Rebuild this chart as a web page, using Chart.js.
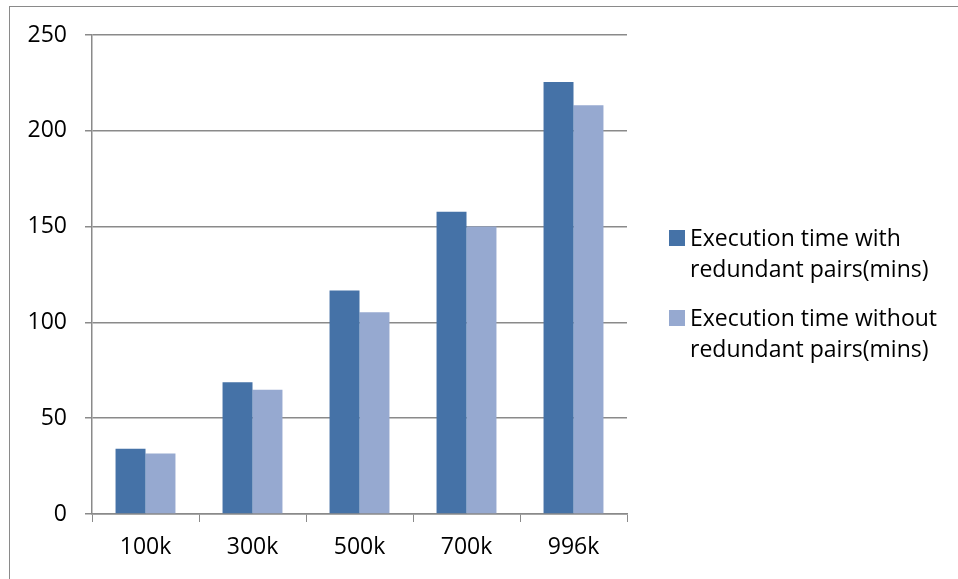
<!DOCTYPE html>
<html>
<head>
<meta charset="utf-8">
<script src="https://cdn.jsdelivr.net/npm/chart.js@4.4.1/dist/chart.umd.min.js"></script>
<style>
  body { margin: 0; background: #fff; }
  #wrap { position: relative; width: 958px; height: 579px; }
  #frame { position: absolute; left: 9px; top: 6px; right: 0; bottom: 0;
           border-left: 1px solid #8a8a8a; border-top: 1px solid #8a8a8a; pointer-events: none; }
  canvas { position: absolute; left: 0; top: 0; }
</style>
</head>
<body>
<div id="wrap">
  <canvas id="grafico" width="958" height="579"></canvas>
  <div id="frame"></div>
</div>
<script>
const categorias = ['100k', '300k', '500k', '700k', '996k'];
const comRedundantes = [34, 68.7, 116.7, 157.8, 225.5];
const semRedundantes = [31.6, 64.9, 105.3, 150, 213.4];
const legendas = [
    ['Execution time with', 'redundant pairs(mins)'],
    ['Execution time without', 'redundant pairs(mins)']
];
const cores = ['#4572A7', '#96A9D0'];
const ticksY = [0, 50, 100, 150, 200, 250];

const fonte = { family: "'Open Sans'", size: 23 };
const cinza = '#8a8a8a';

// legenda desenhada à mão porque os textos têm duas linhas
const legendaPlugin = {
    id: 'legendaPlugin',
    afterDraw(chart) {
        const ctx = chart.ctx;
        const x = chart.chartArea.right + 42;
        let y = 230;
        ctx.save();
        ctx.font = "23px 'Open Sans'";
        ctx.fillStyle = '#000';
        ctx.textBaseline = 'alphabetic';
        chart.data.datasets.forEach((ds, i) => {
            ctx.fillStyle = ds.backgroundColor;
            ctx.fillRect(x, y, 16, 16);
            ctx.fillStyle = '#000';
            legendas[i].forEach((linha, j) => {
                ctx.fillText(linha, x + 21, y + 16 + j * 31);
            });
            y += 80;
        });
        ctx.restore();
    }
};

const ctx = document.getElementById('grafico').getContext('2d');
new Chart(ctx, {
    type: 'bar',
    data: {
        labels: categorias,
        datasets: [{
            label: legendas[0].join(' '),
            data: comRedundantes,
            backgroundColor: cores[0]
        }, {
            label: legendas[1].join(' '),
            data: semRedundantes,
            backgroundColor: cores[1]
        }]
    },
    options: {
        responsive: false,
        animation: false,
        layout: { padding: { left: 0, top: 35, right: 331, bottom: 0 } },
        datasets: { bar: { categoryPercentage: 0.56, barPercentage: 1 } },
        plugins: { legend: { display: false }, tooltip: { enabled: false } },
        scales: {
            x: {
                offset: true,
                grid: { offset: true, drawOnChartArea: false, color: cinza, tickLength: 8 },
                border: { color: cinza, width: 1.5 },
                ticks: { font: fonte, color: '#000', padding: 12 },
                afterFit(scale) { scale.height = 65; }
            },
            y: {
                min: 0,
                max: 250,
                afterBuildTicks(scale) { scale.ticks = ticksY.map(v => ({ value: v })); },
                grid: { color: cinza, lineWidth: 1.5, tickLength: 7 },
                border: { color: cinza, width: 1.5 },
                ticks: { font: fonte, color: '#000', padding: 18 },
                afterFit(scale) { scale.width = 92; }
            }
        }
    },
    plugins: [legendaPlugin]
});
</script>
</body>
</html>
